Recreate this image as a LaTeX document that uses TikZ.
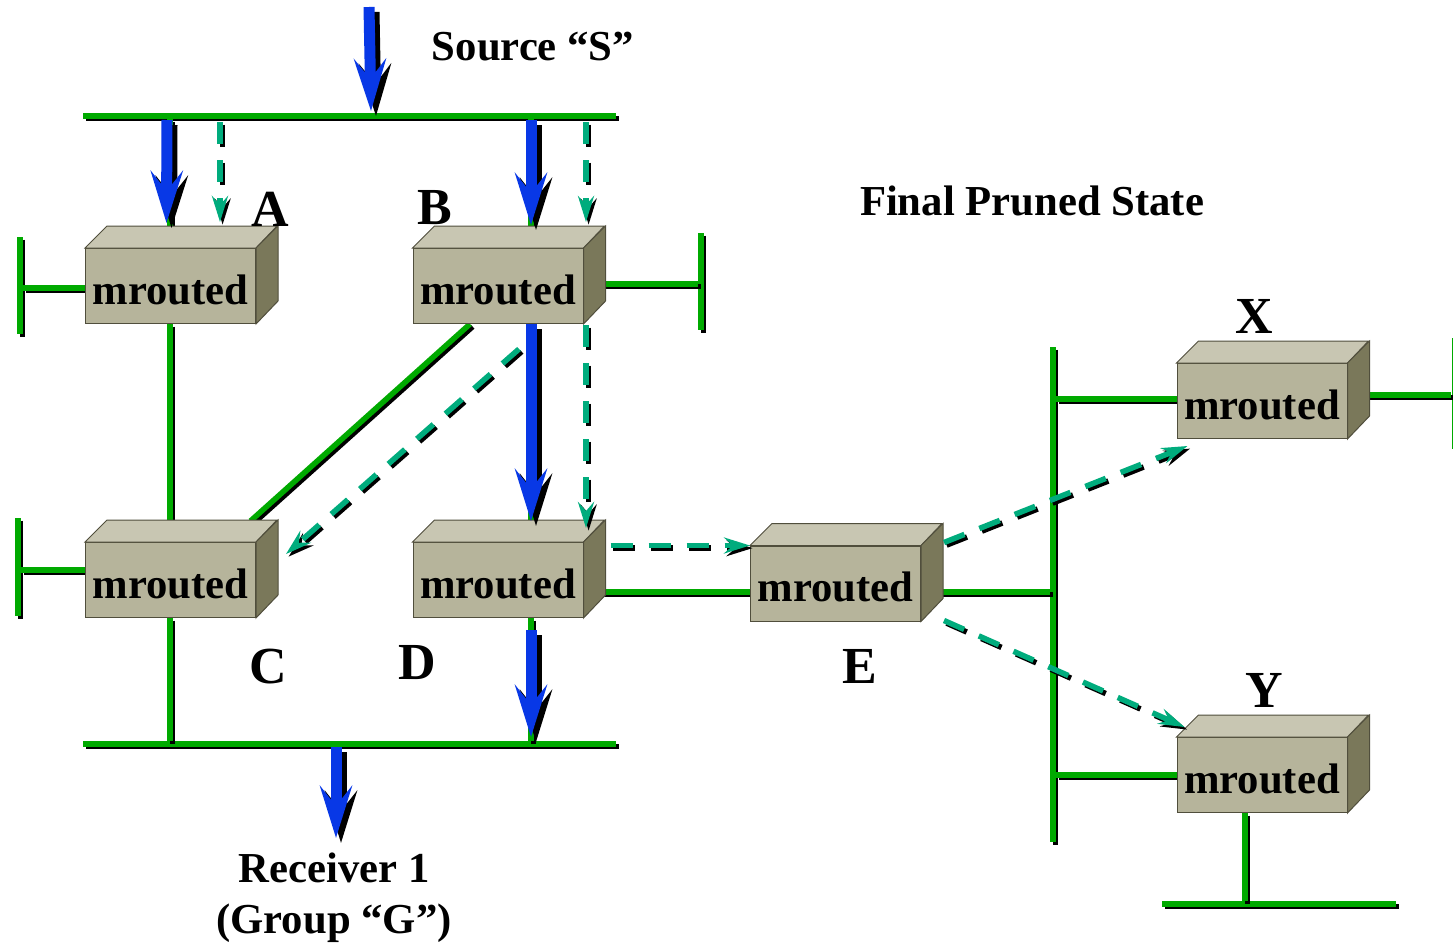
\documentclass[tikz,border=0pt]{standalone}
\usepackage{fontspec}
\setmainfont{Liberation Serif}
\usetikzlibrary{arrows.meta,backgrounds}
\definecolor{netgreen}{RGB}{0,170,0}
\definecolor{flowblue}{RGB}{8,56,230}
\definecolor{prunegreen}{RGB}{0,172,125}
\definecolor{boxfront}{RGB}{182,180,155}
\definecolor{boxtop}{RGB}{200,198,178}
\definecolor{boxside}{RGB}{122,120,90}
\definecolor{boxedge}{RGB}{80,78,60}
\tikzset{
  x=1pt, y=-1pt,
  wire/.style={draw=netgreen,line width=5.5pt,
    preaction={draw=black,line width=5.5pt,transform canvas={xshift=2.6pt,yshift=-2.6pt}}},
  data/.style={draw=flowblue,line width=11pt,-{Stealth[length=52pt,width=32pt,inset=20pt]},
    preaction={draw=black,line width=11pt,transform canvas={xshift=5pt,yshift=-5pt}}},
  prune/.style={draw=prunegreen,line width=5.5pt,dash pattern=on 22pt off 16pt,-{Stealth[length=26pt,width=16pt,inset=9pt]},
    preaction={draw=black,line width=5.5pt,dash pattern=on 22pt off 16pt,transform canvas={xshift=2.6pt,yshift=-2.6pt}}},
  router/.style={draw=boxedge,line width=1pt,fill=boxfront,minimum width=170pt,minimum height=75pt,
    inner sep=0pt,text height=36pt,text depth=0pt,font=\bfseries\fontsize{42.7}{42.7}\selectfont,text=black},
  tag/.style={font=\bfseries\fontsize{#1}{#1}\selectfont,inner sep=0pt,align=center},
  tag/.default=42.7
}
\newcommand{\boxlid}[1]{
  \fill[boxtop,draw=boxedge,line width=1pt] (#1.north west) -- ++(22,-22) -- ++(170,0) -- (#1.north east) -- cycle;
  \fill[boxside,draw=boxedge,line width=1pt] (#1.north east) -- ++(22,-22) -- ++(0,75) -- (#1.south east) -- cycle;
}
\begin{document}
\begin{tikzpicture}
  \useasboundingbox (0,0) rectangle (1453,943);
  % routers
  \node[router] (A) at (170.5,286) {mrouted};
  \node[router] (B) at (498,286) {mrouted};
  \node[router] (C) at (170.5,580) {mrouted};
  \node[router] (D) at (498,580) {mrouted};
  \node[router] (E) at (835.5,583.5) {mrouted};
  \node[router] (X) at (1262,401) {mrouted};
  \node[router] (Y) at (1262,775) {mrouted};
  % bus ends
  \coordinate (topl) at (83,116);
  \coordinate (topr) at (616,116);
  \coordinate (botl) at (83,744);
  \coordinate (botr) at (616,744);
  \coordinate (srcin) at (369,7);
  \coordinate (srcout) at (371,111);
  \coordinate (recvin) at (336,747);
  \coordinate (recvout) at (336,838);
  \coordinate (ltop) at (20,237);
  \coordinate (lbot) at (20,334);
  \coordinate (ctop) at (18,518);
  \coordinate (cbot) at (18,616);
  \coordinate (rtop) at (701,233);
  \coordinate (rbot) at (701,330);
  \coordinate (etop) at (1053,347);
  \coordinate (ebot) at (1053,842);
  \coordinate (xtop) at (1454.5,338);
  \coordinate (xbot) at (1454.5,449);
  \coordinate (yl) at (1162,904);
  \coordinate (yr) at (1396,904);
  % stubs
  \coordinate (acol) at (170,119);
  \coordinate (bcol) at (531,119);
  \coordinate (ccol) at (170,741);
  \coordinate (dcol) at (531,741);
  \coordinate (ystub) at (1245,901);
  \coordinate (astub) at (23,288);
  \coordinate (cstub) at (21,570);
  \coordinate (bstub) at (698,284);
  \coordinate (destub) at (750,592);
  \coordinate (estub) at (1050,592);
  \coordinate (xstub) at (1056,399);
  \coordinate (xright) at (1451,395);
  \coordinate (ylstub) at (1056,775);
  % wires
  \begin{scope}[on background layer]
    \draw[wire] (topl) -- (topr);
    \draw[wire] (botl) -- (botr);
    \draw[wire] (ltop) -- (lbot);
    \draw[wire] (ctop) -- (cbot);
    \draw[wire] (rtop) -- (rbot);
    \draw[wire] (etop) -- (ebot);
    \draw[wire] (xtop) -- (xbot);
    \draw[wire] (yl) -- (yr);
    \draw[wire] (acol) -- (acol |- A.north);
    \draw[wire] (bcol) -- (bcol |- B.north);
    \draw[wire] (acol |- A.south) -- (acol |- C.north);
    \draw[wire] (bcol |- B.south) -- (bcol |- D.north);
    \draw[wire] ([xshift=-28]B.south) -- ([shift={(80,-21)}]C.north);
    \draw[wire] (ccol |- C.south) -- (ccol);
    \draw[wire] (dcol |- D.south) -- (dcol);
    \draw[wire] (astub) -- (astub -| A.west);
    \draw[wire] (cstub) -- (cstub -| C.west);
    \draw[wire] (bstub -| B.east) -- (bstub);
    \draw[wire] (destub -| D.east) -- (destub -| E.west);
    \draw[wire] (estub -| E.east) -- (estub);
    \draw[wire] (xstub) -- (xstub -| X.west);
    \draw[wire] (ylstub) -- (ylstub -| Y.west);
    \draw[wire] (xright -| X.east) -- (xright);
    \draw[wire] (ystub |- Y.south) -- (ystub);
  \end{scope}
  % lids
  \foreach \r in {A,B,C,D,E,X,Y} {\boxlid{\r}}
  % flows
  \draw[data] (srcin) -- (srcout);
  \draw[data] ([shift={(-3,1)}]acol) -- ([shift={(-4,-25)}]A.north);
  \draw[data] ([shift={(0,1)}]bcol) -- ([shift={(33,-23)}]B.north);
  \draw[data] (bcol |- B.south) -- ([shift={(33,-21)}]D.north);
  \draw[data] ([shift={(33,12)}]D.south) -- ([shift={(0,-4)}]dcol);
  \draw[data] (recvin) -- (recvout);
  % pruned
  \draw[prune] (220,122) -- (220,222);
  \draw[prune] (586,122) -- (586,222);
  \draw[prune] (586,325) -- (586,528);
  \draw[prune] ([shift={(21,25)}]B.south) -- ([shift={(30,-26)}]C.east);
  \draw[prune] ([shift={(27,3.5)}]D.north east) -- (E.north west);
  \draw[prune] ([shift={(23,-3)}]E.north east) -- ([shift={(11,7)}]X.south west);
  \draw[prune] ([shift={(23,-1)}]E.south east) -- ([shift={(8,-10)}]Y.north west);
  % labels
  \node[tag] (src) at (533,47) {Source “S”};
  \node[tag] (state) at (1032,201) {Final Pruned State};
  \node[tag] (recv) at (334,898) {Receiver 1\\[8pt](Group “G”)};
  \node[tag=52] (la) at (270,209) {A};
  \node[tag=52] (lb) at (435,208) {B};
  \node[tag=52] (lc) at (268,667) {C};
  \node[tag=52] (ld) at (417,663) {D};
  \node[tag=52] (le) at (860,666) {E};
  \node[tag=52] (lx) at (1254,316) {X};
  \node[tag=52] (ly) at (1264,690) {Y};
\end{tikzpicture}
\end{document}
